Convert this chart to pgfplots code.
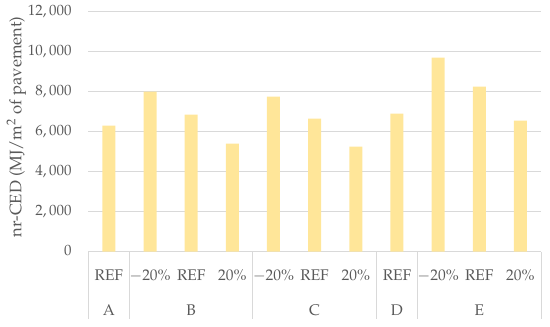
\documentclass[border=0pt]{standalone}
\usepackage[T1]{fontenc}
\usepackage{mathpazo}
\usepackage{pgfplots}
\pgfplotsset{compat=1.18}
\definecolor{barc}{HTML}{FFE699}
\definecolor{gridc}{HTML}{D9D9D9}
\definecolor{txt}{HTML}{595959}
\begin{document}
\fontsize{15}{18}\selectfont
\begin{tikzpicture}
\useasboundingbox (-88.3bp,-75.3bp) rectangle (461.7bp,251.7bp);
\begin{axis}[
  at={(0,0)}, anchor=south west,
  scale only axis,
  width=452.7bp, height=240bp,
  xmin=-0.5, xmax=10.5,
  ymin=0, ymax=12000,
  ytick={0,2000,4000,6000,8000,10000,12000},
  xtick={0,1,2,3,4,5,6,7,8,9,10},
  xticklabels={REF,$-$20\%,REF,20\%,$-$20\%,REF,20\%,REF,$-$20\%,REF,20\%},
  yticklabel style={/pgf/number format/1000 sep={,}, inner sep=0pt, anchor=east, xshift=-16.6bp, text=txt, font=\fontsize{15}{18}\selectfont},
  xticklabel style={inner sep=0pt, anchor=center, text=txt, font=\fontsize{15.5}{18}\selectfont},
  xticklabel shift=0pt,
  typeset ticklabels with strut,
  every x tick label/.append style={yshift=-25bp},
  scaled y ticks=false,
  major tick length=0pt,
  xtick pos=bottom,
  ytick pos=left,
  ymajorgrids,
  grid style={draw=gridc, line width=1bp},
  axis line style={draw=none},
  tick style={draw=none},
  extra x ticks={-0.5,0.5,3.5,6.5,7.5,10.5},
  extra x tick labels={},
  extra x tick style={grid=none, xtick pos=bottom, tick align=outside, major tick length=67bp, tick style={draw=gridc, line width=1bp}},
  ylabel={nr-CED (MJ/m\textsuperscript{2} of pavement)},
  ylabel style={at={(axis description cs:-0.1590,0.5196)}, anchor=center, text=txt, font=\fontsize{16.7}{20}\selectfont},
  clip=false,
]
\addplot[ybar, bar width=13bp, fill=barc, draw=none] coordinates {
  (0,6300) (1,8000) (2,6850) (3,5400) (4,7750) (5,6650) (6,5250) (7,6900) (8,9700) (9,8250) (10,6550)
};
\node[text=txt, anchor=center, font=\fontsize{15.5}{18}\selectfont] at (axis cs:0,0) [yshift=-58.3bp] {A};
\node[text=txt, anchor=center, font=\fontsize{15.5}{18}\selectfont] at (axis cs:2,0) [yshift=-58.3bp] {B};
\node[text=txt, anchor=center, font=\fontsize{15.5}{18}\selectfont] at (axis cs:5,0) [yshift=-58.3bp] {C};
\node[text=txt, anchor=center, font=\fontsize{15.5}{18}\selectfont] at (axis cs:7,0) [yshift=-58.3bp] {D};
\node[text=txt, anchor=center, font=\fontsize{15.5}{18}\selectfont] at (axis cs:9,0) [yshift=-58.3bp] {E};
\end{axis}
\end{tikzpicture}
\end{document}
